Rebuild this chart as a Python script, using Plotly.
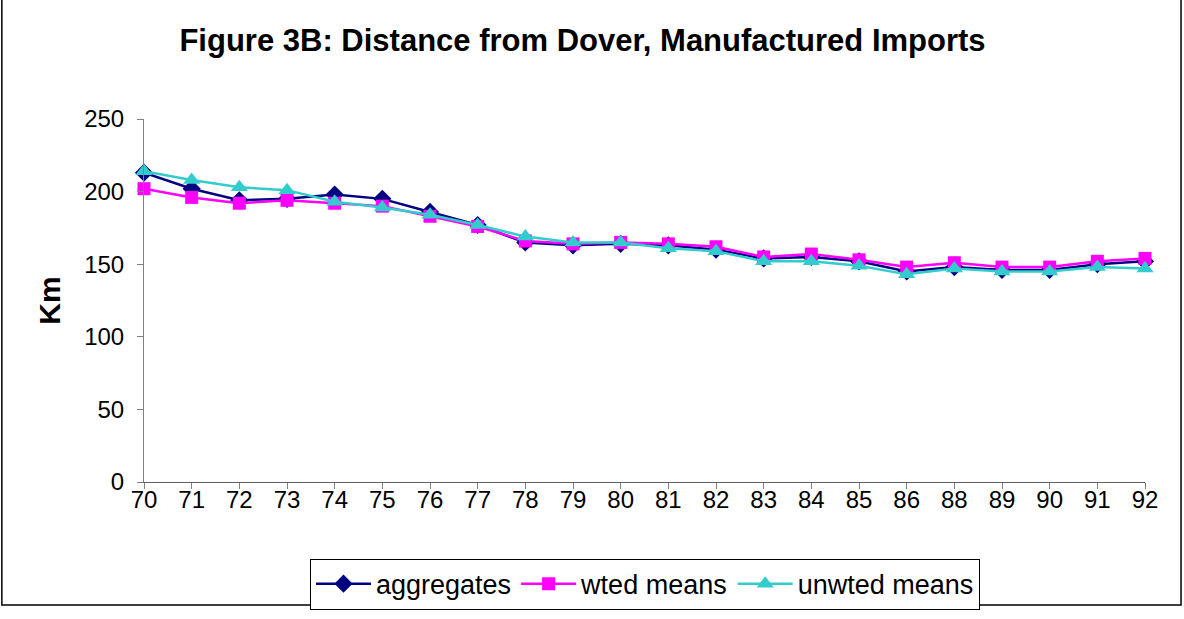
import plotly.graph_objects as go

# years shown on the x axis (87 is missing in the source)
years = ['70', '71', '72', '73', '74', '75', '76', '77', '78', '79', '80',
         '81', '82', '83', '84', '85', '86', '88', '89', '90', '91', '92']

aggregates = [213, 202, 194, 195, 198, 195, 186, 177, 165, 163, 164,
              163, 160, 154, 155, 152, 145, 148, 146, 146, 150, 152]
wted_means = [202, 196, 192, 194, 192, 190, 183, 176, 166, 164, 165,
              164, 162, 155, 157, 153, 148, 151, 148, 148, 152, 154]
unwted_means = [214, 208, 203, 201, 193, 189, 184, 177, 169, 165, 165,
                161, 159, 152, 152, 149, 143, 147, 145, 145, 148, 147]

font_family = 'Liberation Sans, Arial, sans-serif'

fig = go.Figure()
fig.add_trace(go.Scatter(x=years, y=aggregates, mode='lines+markers', name='aggregates',
                         line=dict(color='#000080', width=2.5),
                         marker=dict(symbol='diamond', size=14, color='#000080'),
                         cliponaxis=False))
fig.add_trace(go.Scatter(x=years, y=wted_means, mode='lines+markers', name='wted means',
                         line=dict(color='#FF00FF', width=2.5),
                         marker=dict(symbol='square', size=13, color='#FF00FF'),
                         cliponaxis=False))
fig.add_trace(go.Scatter(x=years, y=unwted_means, mode='lines+markers', name='unwted means',
                         line=dict(color='#33CCCC', width=2.5),
                         marker=dict(symbol='triangle-up', size=15, color='#33CCCC'),
                         cliponaxis=False))

# border around the whole chart
fig.add_shape(type='rect', xref='paper', yref='paper',
              x0=-0.142, x1=1.036, y0=-0.339, y1=1.33,
              line=dict(color='black', width=1.5))

fig.update_layout(
    width=1184, height=619,
    margin=dict(l=144, r=39, t=119, b=137, autoexpand=False),
    paper_bgcolor='white', plot_bgcolor='white',
    font=dict(family=font_family, size=24, color='black'),
    title=dict(text='<b>Figure 3B: Distance from Dover, Manufactured Imports</b>',
               x=0.492, xanchor='center', y=0.935, yanchor='middle',
               font=dict(size=31, family=font_family)),
    xaxis=dict(type='category', range=[0, 21], showgrid=False,
               showline=True, linecolor='#606060', linewidth=1,
               ticks='outside', ticklen=6, tickcolor='#808080',
               ticklabelstandoff=-10,
               tickfont=dict(size=24)),
    yaxis=dict(range=[0, 250], dtick=50, showgrid=False, zeroline=False,
               showline=True, linecolor='#808080', linewidth=1,
               ticks='outside', ticklen=6, tickcolor='#808080',
               ticklabelstandoff=8,
               tickfont=dict(size=24),
               title=dict(text='<b>Km</b>', font=dict(size=30), standoff=14)),
    legend=dict(orientation='h', x=0.5005, xanchor='center', y=-0.211, yanchor='top',
                bordercolor='black', borderwidth=1, font=dict(size=27),
                itemwidth=55, tracegroupgap=0),
    showlegend=True,
)

fig.write_html('out.html', config={'displayModeBar': False},
               post_script="document.body.style.margin='0';")
